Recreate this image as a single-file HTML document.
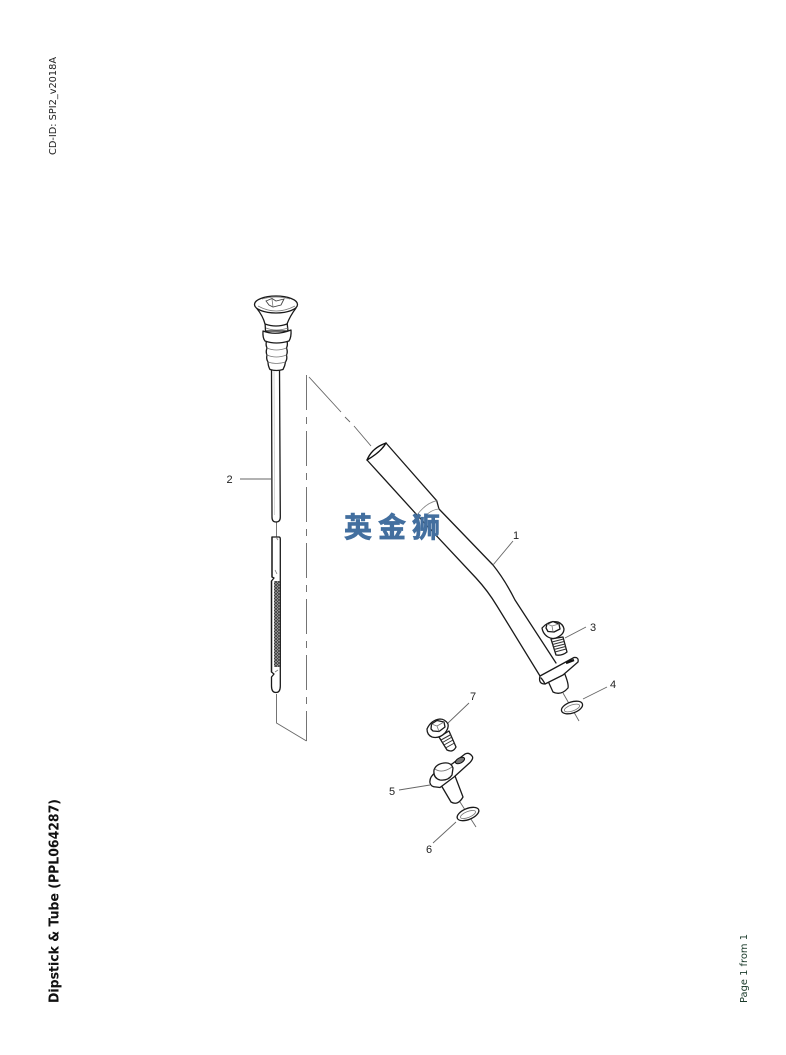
<!DOCTYPE html>
<html><head><meta charset="utf-8"><style>
html,body{margin:0;padding:0;background:#fff}
svg{display:block}
text{font-family:"Liberation Sans",sans-serif;fill:#111}
.o{fill:#fff;stroke:#1a1a1a;stroke-width:1.3;stroke-linejoin:round;stroke-linecap:round}
.n{fill:none;stroke:#1a1a1a;stroke-width:1.3;stroke-linecap:round;stroke-linejoin:round}
.t{fill:none;stroke:#333;stroke-width:1}
.g{fill:none;stroke:#777;stroke-width:.8}
.l{fill:none;stroke:#666;stroke-width:.9}
.lb{font-size:11px;fill:#222}
.s{font-family:"DejaVu Sans",sans-serif}
</style></head><body>
<svg width="786" height="1055" viewBox="0 0 786 1055" xmlns="http://www.w3.org/2000/svg">
<defs>
<pattern id="h" width="3" height="3" patternUnits="userSpaceOnUse">
<rect width="3" height="3" fill="#b5b5b5"/>
<path d="M0 0L3 3M3 0L0 3" stroke="#3a3a3a" stroke-width=".8"/>
</pattern>
</defs>
<rect width="786" height="1055" fill="#fff"/>
<!-- side text -->
<text class="s" transform="translate(56,155) rotate(-90)" font-size="10" textLength="98" lengthAdjust="spacingAndGlyphs" style="fill:#222">CD-ID: SPI2_v2018A</text>
<text class="s" transform="translate(58.500,1003) rotate(-90)" font-size="13.500" font-weight="bold" textLength="204" lengthAdjust="spacingAndGlyphs" style="fill:#111">Dipstick &amp; Tube (PPL064287)</text>
<text class="s" transform="translate(747,1003) rotate(-90)" font-size="10" textLength="69" lengthAdjust="spacingAndGlyphs" style="fill:#1a3a2a">Page 1 from 1</text>

<!-- phantom lines -->
<line x1="306.500" y1="375" x2="306.500" y2="741" class="l" stroke-dasharray="35 7 7 7"/>
<path d="M276.500 694V723L306.500 741" class="l"/>
<path d="M309 377L341 412M345 417L350 422M354 426L371 446" class="l"/>
<line x1="276.500" y1="522" x2="276.500" y2="537" class="l"/>

<!-- dipstick rod -->
<path d="M271.500 368L272 517Q272 522 276 522Q280.300 522 280.300 517L279.500 368" class="n"/>
<line x1="274" y1="370" x2="274.500" y2="515" stroke="#bbb" stroke-width=".6"/>
<!-- lower blade -->
<path d="M272 537H279Q280.300 537 280.300 539V686Q280.300 692.500 276 692.500Q271.500 692.500 271.500 686V677L274 674L271.500 672V581L274 578L272 577Z" class="o"/>
<path d="M271.500 581V672" class="n" stroke-width="1.600"/>
<path d="M272 537V577" class="n" stroke-width="1.600"/>
<rect x="274" y="581" width="5.800" height="86" fill="url(#h)"/>
<path d="M276 537L278 540M275 570L277 574M275 672L278 670" class="g"/>

<!-- handle -->
<path d="M266.500 341Q265.500 345 267 348Q265.500 352 267 355Q266 359 268 362Q268 366 270 369.500Q276.500 371.500 283 369.500Q285 366 285.500 362Q287.500 359 286.500 355Q288 352 286.500 348Q288 345 287 341Z" class="o"/>
<path d="M267 348Q276 352 286.500 348M267 355Q276 359 286.500 355M268 362Q276 365 285.500 362" class="g"/>
<path d="M265 322L265.500 331H288L287 322Z" class="o"/>
<path d="M263 331Q262.500 338 265 341Q276 345 289 341Q291.500 337 291 330Q276 336 263 331Z" class="o"/>
<path d="M266 328Q276 332 288 328" class="g"/>
<path d="M256.500 308Q263 316 265 324Q276 328 287 324Q290 316 296 308Z" class="o"/>
<ellipse cx="276" cy="304.500" rx="21.500" ry="8.500" class="o"/>
<path d="M258 306Q276 316 295 306" class="g"/>
<path d="M266 301L272 298.500L276 301L284 299L281 305L273 307L269 305Z" fill="none" stroke="#444" stroke-width=".9"/>
<path d="M272 299L273 307M262 299Q276 295 290 299" class="g"/>

<!-- tube -->
<path d="M386 443L436.700 500.700L439 509L493 565Q505 580 515 600L556 663L560 672L540 683L503 613L495 598L417 515L367 460Z" fill="#fff" stroke="none"/>
<path d="M386 443L436.700 500.700L439 509L493 565Q505 580 515 600L556 663" class="n" stroke-width="1.400"/>
<path d="M367 460L417 515L476 578Q488 591 497 606L540 676" class="n" stroke-width="1.400"/>
<path d="M417 515Q426 503 436.700 500.700M421 522Q428 510 439 509" fill="none" stroke="#888" stroke-width=".8"/>
<path d="M367 460Q372 448 386 443Q381 452 367 460Z" fill="#fff" stroke="#111" stroke-width="1.400" stroke-linejoin="round"/>

<!-- lower tube and flange 1 -->
<line x1="563" y1="693" x2="579" y2="721" class="l"/>
<path d="M548 681L553 692Q561 696 568 688Q569 684 564 672Z" class="o"/>
<path d="M540 676L574 657.500Q579 657 578 662L563 675L545 684Q538 684 540 676Z" class="o"/>
<path d="M541 678Q543 680 545 684" class="n" stroke-width="1"/>
<path d="M566 663L574 660" fill="none" stroke="#111" stroke-width="2.400"/>

<!-- bolt 3 -->
<path d="M551 639L556 655Q562 656 567 652L563 637Z" class="o"/>
<path d="M552 642L563.500 639M552.500 644.500L564 641.500M553 647L565 644M554 649.500L565.500 646.500M555 652L566 649" class="t"/>
<path d="M542 628Q543 634 548 637Q553 640 558 637Q564 634 564 629Q563 624 558 622Q549 620 542 628Z" class="o"/>
<path d="M546 628L547 624L553 621.500L559 624L560 629L554 632L548 631.500Z" class="o"/>
<path d="M547 624L552 626L559 624M552 626L553 631.500" class="g"/>

<!-- washer 4 -->
<ellipse cx="572" cy="707.500" rx="11" ry="5.500" transform="rotate(-19 572 707.500)" class="o"/>
<ellipse cx="572" cy="708" rx="8" ry="3" transform="rotate(-19 572 708)" class="g"/>

<!-- part 5 -->
<line x1="460" y1="802" x2="476" y2="827" class="l"/>
<path d="M441 785L451 802Q458 806 463 797L455 776Z" class="o"/>
<path d="M430 783Q431 787 436 787L440 787.500L454 777L470 762.500Q474 758 472 756Q469 752 465 754L452 764L436 772Q429 777 430 783Z" class="o"/>
<path d="M434 770Q433 778 440 780Q448 781 452 775L453 768Q451 762 444 763Q436 764 434 770Z" class="o"/>
<path d="M435 769Q442 774 452 767" class="g"/>
<ellipse cx="460" cy="760.500" rx="5" ry="2.600" transform="rotate(-28 460 760.500)" fill="#777" stroke="#111"/>

<!-- bolt 7 -->
<path d="M439 737L447 750Q453 753 456 747L449 731Z" class="o"/>
<path d="M441 740L451 734.500M442.500 742.500L452 737M444 745L453 740M445.500 748L454.500 743" class="t"/>
<path d="M427 729Q427 735 432 737Q439 739 445 733Q449 728 448 724Q445 719 440 719Q431 720 427 729Z" class="o"/>
<path d="M431 729L431.500 724L437 720.500L444 722L445 727L439 731.500L433 731Z" class="o"/>
<path d="M431.500 724L437 726L444 722M437 726L439 731.500" class="g"/>

<!-- washer 6 -->
<ellipse cx="468" cy="814" rx="11.500" ry="5.500" transform="rotate(-22 468 814)" class="o"/>
<ellipse cx="468" cy="814.500" rx="8" ry="3" transform="rotate(-22 468 814.500)" class="g"/>

<!-- leaders -->
<path d="M240 479H271M493 565L513 541M565 638L586 627M583 699L607 687M448 723L469 703M399 790L430 785M433 843L456 822" class="l"/>
<text x="226.500" y="483" class="lb">2</text>
<text x="513" y="539" class="lb">1</text>
<text x="590" y="631" class="lb">3</text>
<text x="610" y="688" class="lb">4</text>
<text x="470" y="700" class="lb">7</text>
<text x="389" y="795" class="lb">5</text>
<text x="426" y="853" class="lb">6</text>

<!-- watermark -->
<text x="344" y="537" font-size="28" font-weight="bold" letter-spacing="6" style="font-family:'Liberation Sans','Noto Sans CJK SC',sans-serif;fill:#436f9f;stroke:#436f9f;stroke-width:.7">英金狮</text>
</svg>
</body></html>
